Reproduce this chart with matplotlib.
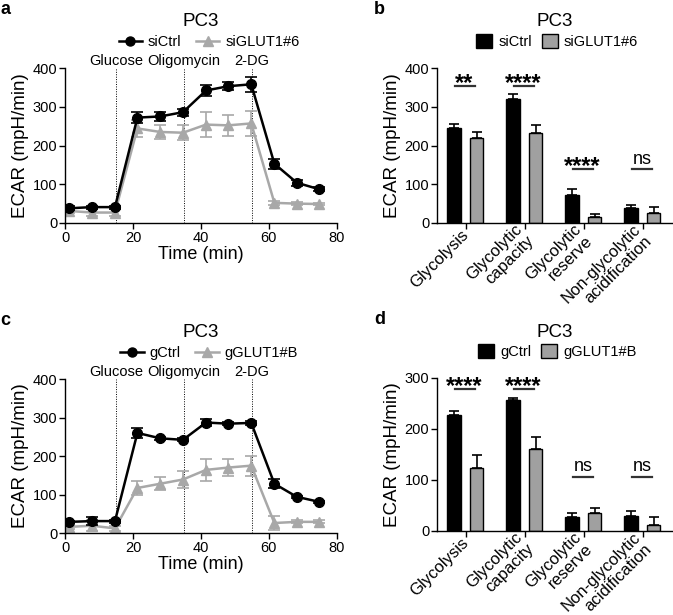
import numpy as np
import matplotlib
matplotlib.use("Agg")
import matplotlib.pyplot as plt
from matplotlib.lines import Line2D
from matplotlib.patches import Patch

plt.rcParams['font.family'] = ['Liberation Sans', 'DejaVu Sans']

# ---- data: seahorse time courses ----
time = [1.3, 8, 14.7, 21.3, 28, 34.7, 41.5, 48, 54.8, 61.6, 68.2, 74.8]
inject_times = [15, 35, 55]
inject_names = ["Glucose", "Oligomycin", "2-DG"]

si_ctrl = [38, 41, 41, 272, 275, 286, 342, 353, 358, 153, 104, 87]
si_ctrl_err = [5, 4, 4, 14, 11, 9, 15, 11, 19, 13, 8, 5]
si_glut = [31, 27, 27, 244, 235, 233, 254, 252, 257, 52, 50, 49]
si_glut_err = [5, 10, 8, 22, 18, 20, 33, 28, 33, 5, 3, 3]

g_ctrl = [29, 31, 31, 260, 246, 242, 287, 284, 286, 128, 94, 81]
g_ctrl_err = [3, 10, 4, 13, 4, 4, 9, 4, 5, 12, 3, 3]
g_glut = [16, 19, 12, 117, 128, 139, 164, 170, 175, 26, 29, 29]
g_glut_err = [6, 15, 6, 17, 17, 22, 29, 22, 26, 18, 4, 4]

# ---- data: summary bars ----
categories = ["Glycolysis", "Glycolytic\ncapacity", "Glycolytic\nreserve",
              "Non-glycolytic\nacidification"]
b_ctrl = [246, 320, 73, 40]
b_ctrl_err = [9, 13, 14, 7]
b_glut = [219, 233, 15, 26]
b_glut_err = [15, 20, 7, 15]
b_sig = ["**", "****", "****", "ns"]
b_sig_y = [353, 353, 139, 139]

d_ctrl = [228, 257, 28, 30]
d_ctrl_err = [8, 4, 8, 9]
d_glut = [124, 160, 36, 12]
d_glut_err = [25, 25, 10, 16]
d_sig = ["****", "****", "ns", "ns"]
d_sig_y = [278, 278, 106, 106]

BLACK = "black"
GREY_LINE = "#a8a8a8"
GREY_BAR = "#a0a0a0"

fig = plt.figure(figsize=(6.73, 6.15), dpi=100)


def style_axes(ax):
    ax.spines['top'].set_visible(False)
    ax.spines['right'].set_visible(False)
    ax.spines['left'].set_linewidth(1.0)
    ax.spines['bottom'].set_linewidth(1.0)
    ax.tick_params(direction='out', length=4, width=1.0, labelsize=10.5, pad=1.5)


def time_panel(rect, ctrl, ctrl_err, kd, kd_err, names, letter):
    ax = fig.add_axes(rect)
    style_axes(ax)
    for t in inject_times:
        ax.axvline(t, color='black', lw=0.7, ls=(0, (1, 1.5)), zorder=1)
    for t, name in zip(inject_times, inject_names):
        ax.annotate(name, xy=(t, 400), xytext=(0, 2.5), textcoords='offset points',
                    ha='center', va='baseline', fontsize=10.5, annotation_clip=False)
    ax.errorbar(time, kd, yerr=kd_err, color=GREY_LINE, marker='^', ms=7,
                lw=1.8, capsize=4, elinewidth=1.2, capthick=1.2, zorder=2)
    ax.errorbar(time, ctrl, yerr=ctrl_err, color=BLACK, marker='o', ms=7,
                lw=1.8, capsize=4, elinewidth=1.2, capthick=1.2, zorder=3)
    ax.set_xlim(0, 80)
    ax.set_ylim(0, 400)
    ax.set_xticks([0, 20, 40, 60, 80])
    ax.set_yticks([0, 100, 200, 300, 400])
    ax.set_xlabel("Time (min)", fontsize=13, labelpad=1)
    ax.set_ylabel("ECAR (mpH/min)", fontsize=13.5, labelpad=3)
    ax.text(0.5, 1.30, "PC3", transform=ax.transAxes, ha='center', va='center',
            fontsize=13.5)
    handles = [Line2D([], [], color=BLACK, marker='o', ms=6.5, lw=1.8),
               Line2D([], [], color=GREY_LINE, marker='^', ms=6.5, lw=1.8)]
    ax.legend(handles, names, loc='center', bbox_to_anchor=(0.53, 1.17), ncol=2,
              frameon=False, fontsize=10.5, handlelength=1.6, handletextpad=0.4,
              columnspacing=1.0, borderpad=0)
    fig.text(0.001, rect[1] + rect[3] + 0.095, letter, fontsize=13,
             fontweight='bold', va='center')
    return ax


def bar_panel(rect, ctrl, ctrl_err, kd, kd_err, sig, sig_y, ymax, names, letter):
    ax = fig.add_axes(rect)
    style_axes(ax)
    x = np.arange(len(categories))
    ax.bar(x - 0.21, ctrl, width=0.25, color=BLACK, edgecolor='black', lw=1.0,
           yerr=[np.zeros(len(ctrl)), ctrl_err], capsize=3.5,
           error_kw=dict(elinewidth=1.2, capthick=1.2, ecolor='black'))
    ax.bar(x + 0.17, kd, width=0.23, color=GREY_BAR, edgecolor='black', lw=1.0,
           yerr=[np.zeros(len(kd)), kd_err], capsize=3.5,
           error_kw=dict(elinewidth=1.2, capthick=1.2, ecolor='black'))
    for xi, s, yy in zip(x, sig, sig_y):
        ax.plot([xi - 0.2, xi + 0.15], [yy, yy], color='#333333', lw=1.6,
                clip_on=False)
        if s == "ns":
            ax.annotate(s, xy=(xi - 0.02, yy), xytext=(0, 4), textcoords='offset points',
                        ha='center', va='baseline', fontsize=13, annotation_clip=False)
        else:
            ax.annotate(s, xy=(xi - 0.04, yy), xytext=(0, -2.5), textcoords='offset points',
                        ha='center', va='baseline', fontsize=17, fontweight='bold',
                        annotation_clip=False)
    ax.set_xlim(-0.5, 3.5)
    ax.set_ylim(0, ymax)
    ax.set_yticks(np.arange(0, ymax + 1, 100))
    ax.set_xticks(x)
    ax.set_xticklabels(categories, rotation=45, ha='right', va='center',
                       rotation_mode='anchor', multialignment='right', fontsize=12,
                       linespacing=1.1)
    ax.tick_params(axis='x', pad=3)
    ax.set_ylabel("ECAR (mpH/min)", fontsize=13.5, labelpad=3)
    ax.text(0.5, 1.30, "PC3", transform=ax.transAxes, ha='center', va='center',
            fontsize=13.5)
    handles = [Patch(facecolor=BLACK, edgecolor='black'),
               Patch(facecolor=GREY_BAR, edgecolor='black')]
    ax.legend(handles, names, loc='center', bbox_to_anchor=(0.51, 1.17), ncol=2,
              frameon=False, fontsize=10.5, handlelength=1.1, handleheight=1.1,
              handletextpad=0.4, columnspacing=0.7, borderpad=0)
    fig.text(0.556, rect[1] + rect[3] + 0.095, letter, fontsize=13,
             fontweight='bold', va='center')
    return ax


time_panel([0.0966, 0.6374, 0.404, 0.252], si_ctrl, si_ctrl_err, si_glut, si_glut_err,
           ["siCtrl", "siGLUT1#6"], "a")
time_panel([0.0966, 0.1333, 0.404, 0.2504], g_ctrl, g_ctrl_err, g_glut, g_glut_err,
           ["gCtrl", "gGLUT1#B"], "c")
bar_panel([0.6493, 0.6374, 0.3507, 0.252], b_ctrl, b_ctrl_err, b_glut, b_glut_err,
          b_sig, b_sig_y, 400, ["siCtrl", "siGLUT1#6"], "b")
bar_panel([0.6493, 0.1366, 0.3507, 0.2488], d_ctrl, d_ctrl_err, d_glut, d_glut_err,
          d_sig, d_sig_y, 300, ["gCtrl", "gGLUT1#B"], "d")

fig.savefig("out.png", dpi=100)
